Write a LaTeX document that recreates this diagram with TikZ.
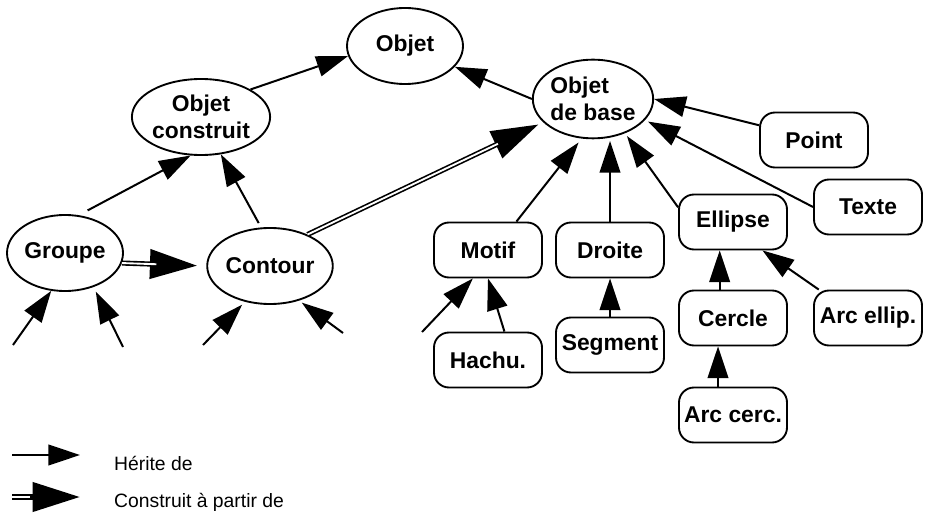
\documentclass[tikz,border=0pt]{standalone}
\usepackage{fontspec}
\setmainfont{Liberation Sans}
\usepackage{tikz}
\usetikzlibrary{shapes.geometric, arrows.meta, positioning}
\newcommand{\classfont}{\fontsize{19.5}{23.5}\selectfont\bfseries}
\newcommand{\legendfont}{\fontsize{16.5}{20}\selectfont}
\tikzset{
  classell/.style={ellipse,draw,line width=1.6pt,minimum width=3.48cm,minimum height=2.28cm,inner sep=0pt,align=center,font=\classfont},
  classbox/.style={rectangle,rounded corners=0.45cm,draw,line width=1.6pt,minimum width=3.24cm,minimum height=1.65cm,inner sep=0pt,align=center,font=\classfont},
  herite/.style={-{Triangle[length=0.95cm,width=0.62cm]},line width=1.7pt},
  construit/.style={-{Triangle[length=1.42cm,width=0.86cm]},line width=4.4pt,
    postaction={draw=white,-,line width=1.6pt,shorten >=1.5cm}},
  legendtext/.style={anchor=base west,font=\legendfont}
}

\begin{document}
\begin{tikzpicture}[x=0.03cm,y=-0.03cm]
  \useasboundingbox (0,0) rectangle (927,514);

  %% Ellipses
  \node[classell] (objet) at (405,46) {Objet};
  \node[classell] (oc) at (201,117) {Objet\\construit};
  \node[classell,align=left,minimum height=2.36cm] (odb) at (593,99) {Objet\\de base};
  \node[classell] (groupe) at (65,253) {Groupe};
  \node[classell] (contour) at (270,266) {Contour};

  %% Boxes
  \node[classbox] (point) at (814,140) {Point};
  \node[classbox] (texte) at (868,207) {Texte};
  \node[classbox] (motif) at (488,250) {Motif};
  \node[classbox] (droite) at (610,250) {Droite};
  \node[classbox] (ellipse) at (733,222) {Ellipse};
  \node[classbox] (hachu) at (488,360) {Hachu.};
  \node[classbox] (segment) at (610,345) {Segment};
  \node[classbox] (cercle) at (733,318) {Cercle};
  \node[classbox] (arcellip) at (868,318) {Arc ellip.};
  \node[classbox] (arccerc) at (733,415) {Arc cerc.};

  %% Free ends
  \coordinate (g1) at (13,345);
  \coordinate (g2) at (123,347);
  \coordinate (c1) at (203,345);
  \coordinate (c2) at (343,333);
  \coordinate (m1) at (422,332);

  %% Inheritance
  \draw[herite] (oc.north east) -- (objet.190);
  \draw[herite] (odb.west) -- (objet);
  \draw[herite,shorten <=0.3cm] (groupe.70) -- (oc.255);
  \draw[herite,shorten <=0.15cm] (contour.103) -- (oc.298);
  \draw[herite,shorten >=0.15cm] (motif.45) -- (odb.254);
  \draw[herite,shorten >=0.05cm] (droite.north) -- (droite.north |- odb.south);
  \draw[herite,shorten >=0.1cm] (ellipse.165) -- (odb.313);
  \draw[herite] (point.165) -- (odb.east);
  \draw[herite,shorten >=0.1cm] (texte.west) -- (odb.338);
  \draw[herite] (hachu.60) -- (motif.south);
  \draw[herite] (segment.north) -- (droite.south);
  \draw[herite] ([xshift=-0.4cm]cercle.north) -- ([xshift=-0.4cm]ellipse.south);
  \draw[herite] ([xshift=-0.45cm]arccerc.north) -- ([xshift=-0.45cm]cercle.south);
  \draw[herite] (arcellip.150) -- (ellipse.-44);
  \draw[herite] (g1) -- (groupe.-110);
  \draw[herite,shorten >=0.15cm] (g2) -- (groupe.-50);
  \draw[herite,shorten >=0.12cm] (c1) -- (contour.-125);
  \draw[herite,shorten >=0.1cm] (c2) -- (contour.-50);
  \draw[herite] (m1) -- (motif.-118);

  %% Construction
  \draw[construit,shorten >=0.27cm] (groupe.-10) -- (contour.west);
  \draw[construit,shorten >=0.15cm] (contour.40) -- (odb.205);

  %% Legend
  \coordinate (l1a) at (12,455);
  \coordinate (l1b) at (80,455);
  \coordinate (l2a) at (12,497);
  \coordinate (l2b) at (80,497);
  \draw[herite] (l1a) -- (l1b);
  \draw[construit] (l2a) -- (l2b);
  \node[legendtext] (leg1) at (110,470) {Hérite de};
  \node[legendtext] (leg2) at (110,507) {Construit à partir de};
\end{tikzpicture}
\end{document}
